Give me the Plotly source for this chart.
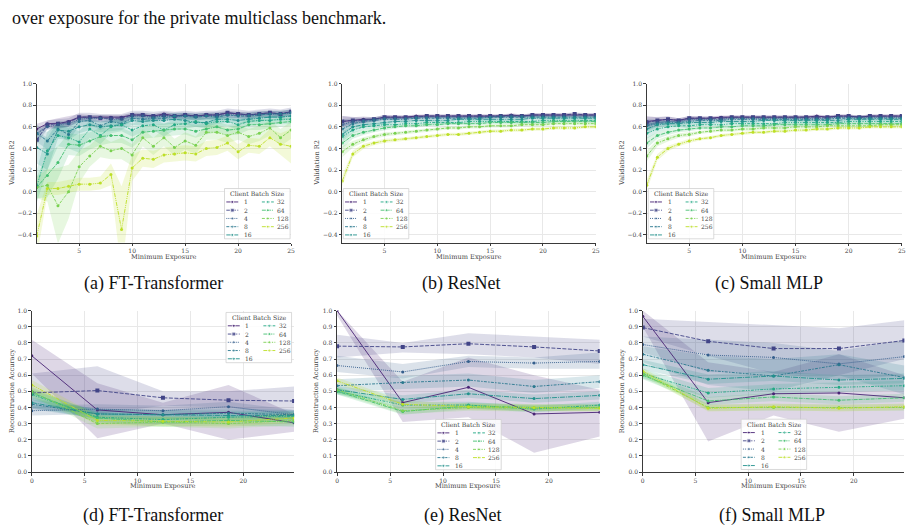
import plotly.graph_objects as go

W, H = 916, 532

# ---------------- data ----------------
SERIES = ["1", "2", "4", "8", "16", "32", "64", "128", "256"]
COLORS = ["#482475", "#414487", "#355f8d", "#2a788e", "#21918c",
          "#22a884", "#44bf70", "#7ad151", "#bddf26"]

TOP_X = list(range(1, 26))
BOT_X = [0, 6.2, 12.4, 18.6, 24.8]

TOP_YTICKS = [-0.4, -0.2, 0.0, 0.2, 0.4, 0.6, 0.8, 1.0]
TOP_YTEXT = ["\u22120.4", "\u22120.2", "0.0", "0.2", "0.4", "0.6", "0.8", "1.0"]
BOT_YTICKS = [0.0, 0.1, 0.2, 0.3, 0.4, 0.5, 0.6, 0.7, 0.8, 0.9, 1.0]
BOT_YTEXT = ["0.0", "0.1", "0.2", "0.3", "0.4", "0.5", "0.6", "0.7", "0.8", "0.9", "1.0"]
TOP_XTICKS = [5, 10, 15, 20, 25]
BOT_XTICKS = [0, 5, 10, 15, 20]

# (a) FT-Transformer, validation R2
A1 = [0.58, 0.63, 0.63, 0.65, 0.69, 0.69, 0.69, 0.69, 0.69, 0.71, 0.71, 0.70, 0.72, 0.70, 0.71, 0.70, 0.71, 0.71, 0.73, 0.72, 0.71, 0.72, 0.73, 0.72, 0.74]
A2 = [0.48, 0.62, 0.63, 0.64, 0.69, 0.69, 0.68, 0.68, 0.68, 0.71, 0.71, 0.70, 0.71, 0.70, 0.71, 0.70, 0.71, 0.71, 0.73, 0.72, 0.71, 0.72, 0.73, 0.72, 0.74]
A4 = [0.54, 0.60, 0.62, 0.63, 0.67, 0.68, 0.68, 0.67, 0.67, 0.70, 0.70, 0.69, 0.70, 0.70, 0.70, 0.70, 0.70, 0.71, 0.71, 0.71, 0.71, 0.72, 0.72, 0.72, 0.73]
A8 = [0.54, 0.47, 0.58, 0.53, 0.65, 0.66, 0.61, 0.65, 0.63, 0.68, 0.67, 0.68, 0.68, 0.70, 0.70, 0.69, 0.70, 0.69, 0.71, 0.70, 0.70, 0.71, 0.72, 0.72, 0.73]
A16 = [0.41, 0.35, 0.57, 0.56, 0.60, 0.62, 0.60, 0.61, 0.62, 0.66, 0.65, 0.66, 0.66, 0.67, 0.66, 0.64, 0.64, 0.67, 0.67, 0.66, 0.67, 0.68, 0.69, 0.69, 0.70]
A32 = [0.05, 0.38, 0.52, 0.50, 0.46, 0.58, 0.52, 0.60, 0.62, 0.57, 0.61, 0.62, 0.57, 0.62, 0.63, 0.65, 0.63, 0.65, 0.65, 0.62, 0.65, 0.66, 0.66, 0.67, 0.67]
A64 = [0.04, 0.15, 0.27, 0.44, 0.43, 0.47, 0.51, 0.52, 0.52, 0.48, 0.55, 0.56, 0.57, 0.58, 0.58, 0.56, 0.58, 0.60, 0.57, 0.58, 0.62, 0.62, 0.63, 0.64, 0.65]
A128 = [0.04, 0.06, -0.13, 0.00, 0.23, 0.33, 0.42, 0.38, 0.40, 0.34, 0.50, 0.42, 0.50, 0.41, 0.47, 0.43, 0.55, 0.55, 0.52, 0.55, 0.51, 0.54, 0.59, 0.50, 0.57]
A256 = [-0.41, 0.03, 0.03, 0.05, 0.07, 0.07, 0.08, 0.16, -0.35, 0.22, 0.31, 0.30, 0.34, 0.35, 0.36, 0.35, 0.40, 0.41, 0.45, 0.37, 0.43, 0.42, 0.50, 0.44, 0.42]
# band half widths (a)
A_HW1 = [0.05, 0.03, 0.05, 0.05, 0.03, 0.02, 0.02, 0.02, 0.02, 0.02, 0.02, 0.02, 0.02, 0.02, 0.02, 0.02, 0.02, 0.02, 0.02, 0.02, 0.02, 0.02, 0.02, 0.02, 0.02]
A_HW8 = [0.08, 0.08, 0.06, 0.06, 0.04, 0.04, 0.04, 0.03, 0.03, 0.03, 0.03, 0.03, 0.03, 0.03, 0.03, 0.03, 0.03, 0.03, 0.03, 0.03, 0.03, 0.03, 0.03, 0.03, 0.03]
A_HW16 = [0.15, 0.15, 0.08, 0.08, 0.06, 0.05, 0.05, 0.05, 0.05, 0.04, 0.04, 0.04, 0.04, 0.04, 0.04, 0.04, 0.04, 0.04, 0.03, 0.03, 0.03, 0.03, 0.03, 0.03, 0.03]
A_HW32 = [0.15, 0.18, 0.10, 0.10, 0.10, 0.08, 0.08, 0.06, 0.06, 0.06, 0.06, 0.05, 0.06, 0.05, 0.05, 0.05, 0.05, 0.05, 0.04, 0.05, 0.04, 0.04, 0.04, 0.04, 0.04]
A_HW64 = [0.10, 0.20, 0.15, 0.10, 0.10, 0.08, 0.08, 0.07, 0.07, 0.07, 0.06, 0.06, 0.06, 0.06, 0.05, 0.06, 0.05, 0.05, 0.05, 0.05, 0.05, 0.05, 0.04, 0.04, 0.04]
A_HW128 = [0.10, 0.15, 0.35, 0.25, 0.15, 0.10, 0.10, 0.08, 0.10, 0.10, 0.08, 0.08, 0.08, 0.08, 0.08, 0.08, 0.07, 0.07, 0.07, 0.07, 0.07, 0.07, 0.07, 0.08, 0.08]
A_HW256 = [0.20, 0.06, 0.06, 0.06, 0.06, 0.06, 0.06, 0.10, 0.40, 0.12, 0.08, 0.08, 0.07, 0.07, 0.07, 0.07, 0.07, 0.07, 0.07, 0.07, 0.07, 0.07, 0.08, 0.10, 0.16]

# (b) ResNet, validation R2
B1 = [0.65, 0.66, 0.67, 0.67, 0.69, 0.69, 0.69, 0.70, 0.70, 0.70, 0.70, 0.70, 0.70, 0.70, 0.70, 0.70, 0.71, 0.70, 0.71, 0.71, 0.71, 0.71, 0.71, 0.71, 0.71]
B2 = [0.65, 0.66, 0.66, 0.67, 0.69, 0.69, 0.69, 0.69, 0.70, 0.70, 0.70, 0.70, 0.70, 0.70, 0.70, 0.70, 0.70, 0.70, 0.71, 0.71, 0.71, 0.71, 0.72, 0.71, 0.71]
B4 = [0.62, 0.65, 0.66, 0.67, 0.68, 0.68, 0.68, 0.69, 0.69, 0.69, 0.69, 0.69, 0.69, 0.69, 0.69, 0.70, 0.70, 0.70, 0.70, 0.70, 0.70, 0.70, 0.70, 0.70, 0.70]
B8 = [0.58, 0.63, 0.65, 0.66, 0.67, 0.67, 0.67, 0.68, 0.68, 0.68, 0.68, 0.68, 0.68, 0.68, 0.69, 0.69, 0.69, 0.69, 0.69, 0.69, 0.69, 0.69, 0.69, 0.69, 0.69]
B16 = [0.53, 0.60, 0.62, 0.63, 0.64, 0.65, 0.65, 0.66, 0.66, 0.66, 0.66, 0.67, 0.67, 0.67, 0.67, 0.67, 0.67, 0.67, 0.68, 0.68, 0.68, 0.68, 0.68, 0.68, 0.68]
B32 = [0.51, 0.57, 0.60, 0.61, 0.62, 0.62, 0.63, 0.63, 0.64, 0.64, 0.64, 0.64, 0.65, 0.65, 0.65, 0.65, 0.65, 0.65, 0.65, 0.66, 0.66, 0.66, 0.66, 0.66, 0.66]
B64 = [0.45, 0.52, 0.55, 0.57, 0.59, 0.60, 0.61, 0.61, 0.62, 0.62, 0.63, 0.63, 0.63, 0.63, 0.64, 0.64, 0.64, 0.64, 0.64, 0.64, 0.65, 0.65, 0.65, 0.65, 0.65]
B128 = [0.37, 0.44, 0.48, 0.51, 0.53, 0.54, 0.55, 0.56, 0.57, 0.58, 0.59, 0.59, 0.60, 0.60, 0.61, 0.61, 0.61, 0.62, 0.62, 0.62, 0.63, 0.63, 0.63, 0.63, 0.63]
B256 = [0.10, 0.35, 0.42, 0.45, 0.47, 0.48, 0.49, 0.50, 0.51, 0.52, 0.53, 0.53, 0.54, 0.55, 0.56, 0.56, 0.57, 0.57, 0.58, 0.58, 0.59, 0.59, 0.59, 0.60, 0.60]

# (c) Small MLP, validation R2
C1 = [0.65, 0.66, 0.67, 0.66, 0.68, 0.68, 0.68, 0.69, 0.69, 0.69, 0.69, 0.69, 0.69, 0.69, 0.69, 0.69, 0.70, 0.69, 0.70, 0.70, 0.69, 0.70, 0.70, 0.70, 0.70]
C2 = [0.64, 0.66, 0.67, 0.66, 0.68, 0.68, 0.68, 0.68, 0.69, 0.69, 0.69, 0.69, 0.69, 0.69, 0.69, 0.69, 0.69, 0.69, 0.70, 0.70, 0.69, 0.70, 0.70, 0.70, 0.70]
C4 = [0.62, 0.64, 0.65, 0.65, 0.67, 0.67, 0.67, 0.67, 0.68, 0.68, 0.68, 0.68, 0.68, 0.68, 0.68, 0.68, 0.68, 0.68, 0.69, 0.69, 0.69, 0.69, 0.69, 0.69, 0.69]
C8 = [0.61, 0.63, 0.64, 0.64, 0.65, 0.66, 0.66, 0.66, 0.67, 0.67, 0.67, 0.67, 0.67, 0.67, 0.67, 0.67, 0.67, 0.67, 0.68, 0.68, 0.68, 0.68, 0.68, 0.68, 0.68]
C16 = [0.58, 0.62, 0.63, 0.63, 0.64, 0.64, 0.64, 0.65, 0.65, 0.65, 0.65, 0.66, 0.66, 0.66, 0.66, 0.66, 0.66, 0.66, 0.66, 0.67, 0.67, 0.67, 0.67, 0.67, 0.67]
C32 = [0.54, 0.58, 0.60, 0.61, 0.61, 0.62, 0.62, 0.62, 0.63, 0.63, 0.63, 0.63, 0.63, 0.64, 0.64, 0.64, 0.64, 0.64, 0.64, 0.65, 0.65, 0.65, 0.65, 0.65, 0.65]
C64 = [0.45, 0.52, 0.55, 0.57, 0.58, 0.59, 0.59, 0.60, 0.60, 0.61, 0.61, 0.61, 0.62, 0.62, 0.62, 0.62, 0.62, 0.62, 0.63, 0.63, 0.63, 0.63, 0.63, 0.63, 0.63]
C128 = [0.33, 0.45, 0.49, 0.52, 0.53, 0.55, 0.56, 0.57, 0.57, 0.58, 0.58, 0.59, 0.59, 0.59, 0.60, 0.60, 0.60, 0.61, 0.61, 0.61, 0.61, 0.61, 0.62, 0.62, 0.62]
C256 = [0.06, 0.32, 0.40, 0.44, 0.47, 0.49, 0.50, 0.52, 0.53, 0.54, 0.55, 0.55, 0.56, 0.56, 0.57, 0.57, 0.58, 0.58, 0.59, 0.59, 0.59, 0.60, 0.60, 0.60, 0.60]

SMOOTH_HW = [0.05, 0.03, 0.025, 0.02, 0.02, 0.015, 0.015, 0.015, 0.015, 0.015, 0.015, 0.015, 0.015, 0.015, 0.015, 0.015, 0.015, 0.015, 0.015, 0.015, 0.015, 0.015, 0.015, 0.015, 0.015]

# (d) FT-Transformer, reconstruction accuracy
D1 = [0.72, 0.385, 0.355, 0.37, 0.305]
D2 = [0.49, 0.505, 0.46, 0.445, 0.44]
D4 = [0.38, 0.39, 0.38, 0.405, 0.355]
D8 = [0.42, 0.36, 0.355, 0.365, 0.355]
D16 = [0.43, 0.36, 0.355, 0.35, 0.35]
D32 = [0.48, 0.34, 0.325, 0.34, 0.345]
D64 = [0.49, 0.335, 0.31, 0.32, 0.31]
D128 = [0.50, 0.30, 0.31, 0.30, 0.32]
D256 = [0.54, 0.32, 0.315, 0.31, 0.335]
D1_LO = [0.61, 0.21, 0.30, 0.20, 0.25]
D1_HI = [0.82, 0.55, 0.43, 0.54, 0.36]
D2_LO = [0.39, 0.36, 0.41, 0.40, 0.36]
D2_HI = [0.61, 0.655, 0.50, 0.50, 0.53]

# (e) ResNet, reconstruction accuracy
E1 = [1.0, 0.43, 0.525, 0.36, 0.37]
E2 = [0.78, 0.775, 0.795, 0.775, 0.75]
E4 = [0.66, 0.62, 0.685, 0.675, 0.685]
E8 = [0.535, 0.555, 0.57, 0.53, 0.56]
E16 = [0.51, 0.45, 0.485, 0.455, 0.475]
E32 = [0.50, 0.415, 0.415, 0.39, 0.415]
E64 = [0.50, 0.375, 0.41, 0.40, 0.40]
E128 = [0.51, 0.38, 0.40, 0.395, 0.40]
E256 = [0.565, 0.42, 0.405, 0.40, 0.395]
E1_LO = [0.97, 0.31, 0.34, 0.12, 0.22]
E1_HI = [1.0, 0.56, 0.71, 0.60, 0.51]
E2_LO = [0.71, 0.74, 0.73, 0.71, 0.67]
E2_HI = [0.85, 0.80, 0.86, 0.84, 0.82]
E4_LO = [0.62, 0.58, 0.65, 0.64, 0.64]
E4_HI = [0.72, 0.67, 0.72, 0.71, 0.74]

# (f) Small MLP, reconstruction accuracy
F1 = [0.965, 0.43, 0.485, 0.49, 0.46]
F2 = [0.895, 0.81, 0.765, 0.765, 0.815]
F4 = [0.79, 0.725, 0.71, 0.67, 0.715]
F8 = [0.73, 0.63, 0.595, 0.665, 0.585]
F16 = [0.665, 0.575, 0.595, 0.57, 0.58]
F32 = [0.61, 0.49, 0.515, 0.525, 0.535]
F64 = [0.60, 0.44, 0.465, 0.445, 0.46]
F128 = [0.61, 0.40, 0.40, 0.40, 0.40]
F256 = [0.625, 0.395, 0.405, 0.395, 0.405]
F1_LO = [0.90, 0.19, 0.35, 0.25, 0.33]
F1_HI = [1.0, 0.68, 0.62, 0.73, 0.60]
F2_LO = [0.84, 0.72, 0.61, 0.60, 0.70]
F2_HI = [0.95, 0.93, 0.91, 0.89, 0.94]
F4_LO = [0.74, 0.62, 0.61, 0.57, 0.60]
F4_HI = [0.84, 0.82, 0.80, 0.75, 0.82]
F8_LO = [0.68, 0.54, 0.50, 0.60, 0.48]
F8_HI = [0.78, 0.72, 0.70, 0.73, 0.66]

CAPTIONS = ["(a) FT-Transformer", "(b) ResNet", "(c) Small MLP",
            "(d) FT-Transformer", "(e) ResNet", "(f) Small MLP"]
HEADER = "over exposure for the private multiclass benchmark."
LEGEND_TITLE = "Client Batch Size"
XTITLE = "Minimum Exposure"
YTITLE_TOP = "Validation R2"
YTITLE_BOT = "Reconstruction Accuracy"

# ---------------- styling / layout ----------------
DASHES = ["solid", "4px,1.5px", "1px,1px", "3px,1.25px,1.5px,1.25px", "5px,1px,1px,1px",
          "3px,1.25px,1.25px,1.25px,1.25px,1.25px", "4px,1px,4px,1px,1px,1px",
          "3px,1.25px,3px,1.25px,1.25px,1.25px", "4px,1px,1px,1px,1px,1px"]
SYMBOLS = ["circle", "square", "circle", "circle", "circle", "circle", "circle", "circle", "circle"]
MSIZE = [3, 4, 3, 3, 3, 3, 3, 3, 3]
AXFONT = "DejaVu Serif"
CAPFONT = "Liberation Serif"
TXT = "#444444"

# panel boxes in pixels: left, right, top, bottom
BOXES = [(35, 291, 80.7, 241.7), (342.5, 597.7, 80.7, 241.7), (649, 905.7, 80.7, 241.7),
         (30, 294, 310.7, 474.3), (337.3, 601.7, 310.7, 474.3), (645, 908.3, 310.7, 474.3)]
LEG_POS = [(224, 187), (343.5, 187), (650.5, 187), (225.5, 312.5), (436.5, 421), (744, 420.7)]
LEG_W, LEG_H = 66, 51
YLAB_X = [10, 316.7, 624, 10.7, 316.7, 624]
CAP_POS = [(152, 283), (462, 283), (772, 283), (152, 518), (464, 518), (775, 518)]

panels = [
    dict(x=TOP_X, vals=[A1, A2, A4, A8, A16, A32, A64, A128, A256],
         bands=[A_HW1, 0.04, 0.03, A_HW8, A_HW16, A_HW32, A_HW64, A_HW128, A_HW256]),
    dict(x=TOP_X, vals=[B1, B2, B4, B8, B16, B32, B64, B128, B256], bands=[SMOOTH_HW] * 9),
    dict(x=TOP_X, vals=[C1, C2, C4, C8, C16, C32, C64, C128, C256], bands=[SMOOTH_HW] * 9),
    dict(x=BOT_X, vals=[D1, D2, D4, D8, D16, D32, D64, D128, D256],
         bands=[(D1_LO, D1_HI), (D2_LO, D2_HI), 0.03, 0.03, 0.03, 0.03, 0.03, 0.03, 0.03]),
    dict(x=BOT_X, vals=[E1, E2, E4, E8, E16, E32, E64, E128, E256],
         bands=[(E1_LO, E1_HI), (E2_LO, E2_HI), (E4_LO, E4_HI), 0.04, 0.025, 0.02, 0.02, 0.02, 0.02]),
    dict(x=BOT_X, vals=[F1, F2, F4, F8, F16, F32, F64, F128, F256],
         bands=[(F1_LO, F1_HI), (F2_LO, F2_HI), (F4_LO, F4_HI), (F8_LO, F8_HI), 0.03, 0.03, 0.025, 0.02, 0.02]),
]


def rgba(hexc, a):
    h = hexc.lstrip("#")
    return "rgba(%d,%d,%d,%s)" % (int(h[0:2], 16), int(h[2:4], 16), int(h[4:6], 16), a)


def bounds(vals, spec):
    if isinstance(spec, tuple):
        return spec[0], spec[1]
    hw = [spec] * len(vals) if isinstance(spec, (int, float)) else spec
    return [v - h for v, h in zip(vals, hw)], [v + h for v, h in zip(vals, hw)]


def px_x(p):
    return p / W


def px_y(p):
    return 1 - p / H


fig = go.Figure()
layout = dict(width=W, height=H, margin=dict(l=0, r=0, t=0, b=0),
              paper_bgcolor="white", plot_bgcolor="rgba(0,0,0,0)",
              showlegend=False, annotations=[])

for k, (panel, box) in enumerate(zip(panels, BOXES)):
    idx = k + 1
    xs = "x" if idx == 1 else "x%d" % idx
    ys = "y" if idx == 1 else "y%d" % idx
    top = k < 3
    # confidence bands
    for i, (vals, spec) in enumerate(zip(panel["vals"], panel["bands"])):
        lo, hi = bounds(vals, spec)
        fig.add_trace(go.Scatter(x=panel["x"] + panel["x"][::-1], y=hi + lo[::-1],
                                 fill="toself", fillcolor=rgba(COLORS[i], 0.18),
                                 line=dict(width=0), mode="lines", hoverinfo="skip",
                                 xaxis=xs, yaxis=ys, showlegend=False))
    # mean lines
    for i, vals in enumerate(panel["vals"]):
        fig.add_trace(go.Scatter(x=panel["x"], y=vals, mode="lines+markers", name=SERIES[i],
                                 line=dict(color=COLORS[i], width=0.9, dash=DASHES[i]),
                                 marker=dict(color=COLORS[i], size=MSIZE[i], symbol=SYMBOLS[i]),
                                 xaxis=xs, yaxis=ys, showlegend=False))
    l, r, t, b = box
    axcommon = dict(showgrid=True, gridcolor="#e8e8e8", gridwidth=1, zeroline=False,
                    showline=True, linecolor="#3a3a3a", linewidth=1.1,
                    ticks="outside", ticklen=2.5, tickwidth=0.8, tickcolor="#3a3a3a",
                    tickfont=dict(family=AXFONT, size=6, color=TXT), fixedrange=True)
    layout["xaxis" if idx == 1 else "xaxis%d" % idx] = dict(
        axcommon, domain=[px_x(l), px_x(r)], anchor=ys,
        range=[1, 25] if top else [0, 24.8],
        tickmode="array", tickvals=TOP_XTICKS if top else BOT_XTICKS)
    layout["yaxis" if idx == 1 else "yaxis%d" % idx] = dict(
        axcommon, domain=[px_y(b), px_y(t)], anchor=xs,
        range=[-0.47, 1.0] if top else [0, 1.0],
        tickmode="array", tickvals=TOP_YTICKS if top else BOT_YTICKS,
        ticktext=TOP_YTEXT if top else BOT_YTEXT)
    # axis titles
    layout["annotations"].append(dict(text=XTITLE, xref="paper", yref="paper",
                                      x=px_x((l + r) / 2), y=px_y(b + 14.5), showarrow=False,
                                      xanchor="center", yanchor="middle",
                                      font=dict(family=AXFONT, size=6.6, color=TXT)))
    layout["annotations"].append(dict(text=YTITLE_TOP if top else YTITLE_BOT, xref="paper", yref="paper",
                                      x=px_x(YLAB_X[k]), y=px_y((t + b) / 2), showarrow=False,
                                      textangle=-90, xanchor="center", yanchor="middle",
                                      font=dict(family=AXFONT, size=6.6, color=TXT)))
    # caption
    cx, cy = CAP_POS[k]
    layout["annotations"].append(dict(text=CAPTIONS[k], xref="paper", yref="paper",
                                      x=px_x(cx), y=px_y(cy), showarrow=False,
                                      xanchor="center", yanchor="middle",
                                      font=dict(family=CAPFONT, size=18, color="#111")))

    # legend drawn on an overlay axis pair
    li = idx + 6
    lx, ly = LEG_POS[k]
    lxs, lys = "x%d" % li, "y%d" % li
    layout["xaxis%d" % li] = dict(domain=[px_x(lx - 1), px_x(lx + LEG_W + 1)], range=[-1, LEG_W + 1],
                                  visible=False, fixedrange=True, anchor=lys)
    layout["yaxis%d" % li] = dict(domain=[px_y(ly + LEG_H + 1), px_y(ly - 1)], range=[LEG_H + 1, -1],
                                  visible=False, fixedrange=True, anchor=lxs)
    fig.add_trace(go.Scatter(x=[0, LEG_W, LEG_W, 0, 0], y=[0, 0, LEG_H, LEG_H, 0], mode="lines",
                             fill="toself", fillcolor="rgba(255,255,255,0.85)",
                             line=dict(color="#cfcfcf", width=0.8), hoverinfo="skip",
                             xaxis=lxs, yaxis=lys, showlegend=False))
    layout["annotations"].append(dict(text=LEGEND_TITLE, xref=lxs, yref=lys, x=LEG_W / 2, y=5.2,
                                      showarrow=False, xanchor="center", yanchor="middle",
                                      font=dict(family=AXFONT, size=6.2, color=TXT)))
    for i, name in enumerate(SERIES):
        col, row = (0, i) if i < 5 else (1, i - 5)
        yy = 13.6 + 8.35 * row
        x0 = 1.8 if col == 0 else 37.6
        fig.add_trace(go.Scatter(x=[x0, x0 + 6, x0 + 12], y=[yy, yy, yy], mode="lines+markers",
                                 line=dict(color=COLORS[i], width=0.9, dash=DASHES[i]),
                                 marker=dict(color=COLORS[i], size=[0, MSIZE[i], 0], symbol=SYMBOLS[i]),
                                 hoverinfo="skip", xaxis=lxs, yaxis=lys, showlegend=False))
        layout["annotations"].append(dict(text=name, xref=lxs, yref=lys,
                                          x=(17.5 if col == 0 else 51), y=yy, showarrow=False,
                                          xanchor="left", yanchor="middle",
                                          font=dict(family=AXFONT, size=6, color=TXT)))

layout["annotations"].append(dict(text=HEADER, xref="paper", yref="paper", x=px_x(8), y=px_y(14),
                                  showarrow=False, xanchor="left", yanchor="middle",
                                  font=dict(family=CAPFONT, size=18, color="#111")))

fig.update_layout(**layout)
fig.write_html("out.html")
